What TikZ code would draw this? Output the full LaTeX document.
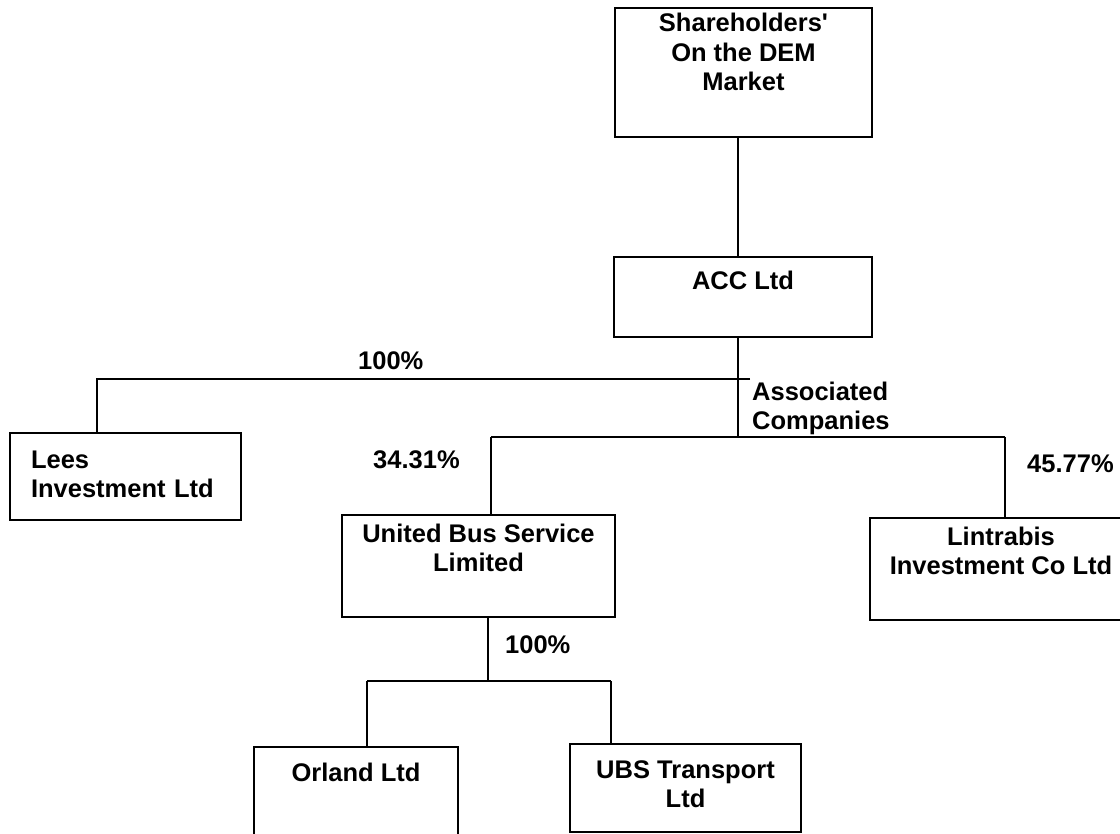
\documentclass[tikz,border=0pt]{standalone}
\usepackage{fontspec}
\setmainfont{Liberation Sans}
\newcommand{\boxfont}{\fontsize{25.5}{29.5}\selectfont\bfseries}

\begin{document}
\begin{tikzpicture}[
        x=1pt, y=-1pt,
        entity/.style={rectangle, draw=black, line width=2.2pt, inner sep=0pt, align=center, font=\boxfont},
        link/.style={draw=black, line width=1.6pt},
        stake/.style={font=\boxfont, inner sep=0pt, anchor=base west, align=left}
    ]
        \clip (0,0) rectangle (1120,834);
        \fill[white] (0,0) rectangle (1120,834);

        % Top level - Shareholders and ACC
        \node[entity, minimum width=257pt, text height=83pt, text depth=46pt] (share) at (743.5,72.5) {Shareholders\textquotesingle\\On the DEM\\Market};
        \node[entity, minimum width=258pt, text height=33pt, text depth=47pt] (acc) at (743,297) {ACC Ltd};

        % Second level - subsidiary and associates
        \node[entity, text width=189pt, inner xsep=21pt, align=left, text height=35pt, text depth=52pt] (lees) at (125.5,476.5) {Lees\\Investment Ltd};
        \node[entity, minimum width=273pt, text height=56.5pt, text depth=45.5pt] (ubs) at (478.5,566) {United Bus Service\\Limited};
        \node[entity, minimum width=262pt, text height=56.5pt, text depth=45.5pt] (lintrabis) at (1001,569) {Lintrabis\\Investment Co Ltd};

        % Third level - UBS subsidiaries
        \node[entity, minimum width=204pt, text height=34pt, text depth=55pt] (orland) at (356,791.5) {Orland Ltd};
        \node[entity, minimum width=231pt, text height=63.5pt, text depth=24.5pt] (transport) at (685.5,788) {UBS Transport\\Ltd};

        % Branch points
        \coordinate (spine) at (738,437);
        \coordinate (topbar) at (750,379);
        \coordinate (leestap) at (97,379);
        \coordinate (assocL) at (491,437);
        \coordinate (assocR) at (1005,437);
        \coordinate (subbar) at (488,681);
        \coordinate (subL) at (367,681);
        \coordinate (subR) at (611,681);

        % Connectors
        \draw[link] (share.south -| spine) -- (acc.north -| spine);
        \draw[link] (acc.south -| spine) -- (spine);
        \draw[link] (topbar) -- (leestap) -- (leestap |- lees.north);
        \draw[link] (assocL) -- (assocR);
        \draw[link] (assocL) -- (assocL |- ubs.north);
        \draw[link] (assocR) -- (assocR |- lintrabis.north);
        \draw[link] (ubs.south -| subbar) -- (subbar);
        \draw[link] (subL) -- (subR);
        \draw[link] (subL) -- (subL |- orland.north);
        \draw[link] (subR) -- (subR |- transport.north);

        % Holdings
        \node[stake] (leespct) at (358,370) {100\%};
        \node[stake] (ubspct) at (373,468) {34.31\%};
        \node[stake] (linpct) at (1027,472) {45.77\%};
        \node[stake] (subpct) at (505,653) {100\%};
        \node[stake] (assoc) at (752,430) {Associated\\Companies};
    \end{tikzpicture}
\end{document}
